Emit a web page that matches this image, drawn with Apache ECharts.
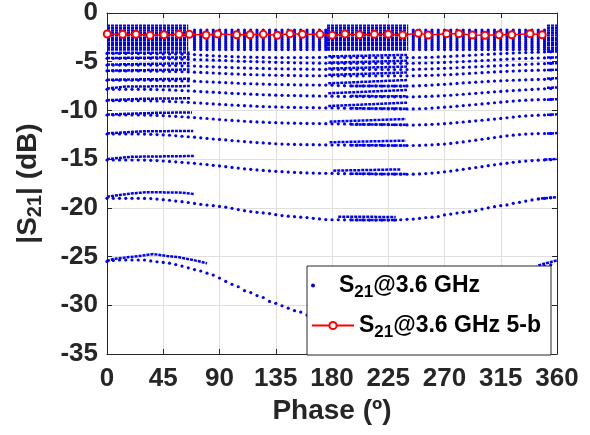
<!DOCTYPE html>
<html><head><meta charset="utf-8">
<script src="https://cdn.jsdelivr.net/npm/echarts@6/dist/echarts.min.js"></script>
<style>html,body{margin:0;padding:0;background:#fff}#c{width:590px;height:435px}</style>
</head><body><div id="c"></div>
<script>
// x-axis tick labels and y-axis tick labels
const xTicks = [0,45,90,135,180,225,270,315,360];
const yTicks = [-35,-30,-25,-20,-15,-10,-5,0];

// phase grid of the sparse dots (degrees)
const phases = [0,5,10,15,20,25,30,35,40,45,50,55,60,65,70,75,80,85,90,95,100,105,110,115,120,125,130,135,140,145,150,155,160,165,170,175,180,185,190,195,200,205,210,215,220,225,230,235,240,245,250,255,260,265,270,275,280,285,290,295,300,305,310,315,320,325,330,335,340,345,350,355];

// sparse |S21| curves (dB), one value per phase above
const curve4_1 = [-4.15,-4.15,-4.15,-4.15,-4.15,-4.16,-4.17,-4.18,-4.19,-4.2,-4.21,-4.22,-4.23,-4.24,
 -4.27,-4.31,-4.35,-4.39,-4.42,-4.45,-4.48,-4.5,-4.52,-4.53,-4.55,-4.56,-4.57,-4.58,-4.58,-4.58,-4.58,-4.58,-4.57,-4.57,-4.56,-4.55,
 -4.55,-4.56,-4.57,-4.58,-4.58,-4.58,-4.59,-4.59,-4.59,-4.59,-4.59,-4.59,-4.58,
 -4.58,-4.57,-4.56,-4.54,-4.51,-4.48,-4.45,-4.41,-4.38,-4.34,-4.31,-4.27,-4.24,-4.2,-4.17,-4.14,-4.11,-4.08,-4.06,-4.04,-4.02,-4.0,-3.98];
const curve4_7 = [-4.65,-4.65,-4.65,-4.65,-4.65,-4.65,
 -4.66,-4.66,-4.67,-4.69,-4.7,-4.72,-4.74,-4.75,-4.78,-4.8,-4.82,-4.84,-4.86,-4.88,-4.91,-4.94,-4.96,-4.98,-5.0,-5.02,-5.04,-5.06,-5.08,-5.09,-5.11,-5.12,-5.13,-5.14,-5.15,-5.16,-5.16,
 -5.17,-5.17,-5.17,-5.17,-5.17,-5.17,-5.17,-5.17,-5.17,-5.17,-5.17,-5.17,
 -5.16,-5.14,-5.13,-5.11,-5.09,-5.07,-5.04,-5.01,-4.98,-4.95,-4.92,-4.88,-4.85,-4.81,-4.78,-4.74,-4.71,-4.68,-4.66,-4.64,-4.62,-4.61,-4.6];
const curve5_3 = [-5.34,-5.34,-5.34,-5.34,-5.34,-5.34,
 -5.34,-5.35,-5.36,-5.37,-5.39,-5.4,-5.42,-5.43,-5.45,-5.47,-5.5,-5.52,-5.55,-5.58,-5.6,-5.62,-5.64,-5.66,-5.68,-5.69,-5.71,-5.72,-5.73,-5.74,-5.75,-5.76,-5.77,-5.77,-5.78,-5.78,-5.79,
 -5.8,-5.8,-5.8,-5.8,-5.8,-5.8,-5.8,-5.8,-5.8,-5.8,-5.8,-5.8,
 -5.79,-5.77,-5.75,-5.73,-5.7,-5.68,-5.65,-5.62,-5.58,-5.55,-5.52,-5.49,-5.46,-5.43,-5.4,-5.37,-5.34,-5.3,-5.27,-5.24,-5.22,-5.2,-5.18];
const curve6_0 = [-5.95,-5.95,-5.95,-5.95,-5.95,-5.95,
 -5.95,-5.96,-5.97,-5.98,-6.0,-6.01,-6.03,-6.05,-6.07,-6.1,-6.13,-6.16,-6.19,-6.22,-6.25,-6.27,-6.3,-6.32,-6.34,-6.36,-6.37,-6.39,-6.4,-6.41,-6.42,-6.43,-6.43,-6.44,-6.44,-6.44,-6.45,
 -6.45,-6.45,-6.45,-6.45,-6.45,-6.45,-6.45,-6.45,-6.45,-6.45,-6.45,-6.45,
 -6.44,-6.43,-6.41,-6.39,-6.37,-6.35,-6.32,-6.28,-6.24,-6.2,-6.16,-6.12,-6.08,-6.05,-6.02,-5.99,-5.96,-5.93,-5.91,-5.89,-5.87,-5.86,-5.85];
const curve6_9 = [-6.9,-6.9,-6.9,-6.9,-6.9,-6.9,
 -6.9,-6.91,-6.92,-6.93,-6.94,-6.95,-6.97,-6.98,-7.0,-7.03,-7.06,-7.09,-7.12,-7.15,-7.18,-7.21,-7.24,-7.26,-7.28,-7.3,-7.32,-7.34,-7.35,-7.36,-7.37,-7.38,-7.38,-7.39,-7.4,-7.4,-7.41,
 -7.45,-7.46,-7.47,-7.48,-7.48,-7.49,-7.49,-7.5,-7.5,-7.5,-7.5,-7.49,
 -7.48,-7.46,-7.43,-7.4,-7.36,-7.32,-7.28,-7.23,-7.18,-7.14,-7.1,-7.06,-7.02,-6.99,-6.96,-6.93,-6.9,-6.88,-6.86,-6.84,-6.82,-6.81,-6.8];
const curve7_8 = [-7.83,-7.83,-7.83,-7.83,-7.83,-7.83,
 -7.83,-7.84,-7.86,-7.88,-7.9,-7.93,-7.96,-7.99,-8.02,-8.06,-8.1,-8.13,-8.17,-8.2,-8.24,-8.27,-8.3,-8.33,-8.36,-8.39,-8.41,-8.43,-8.45,-8.47,-8.48,-8.49,-8.5,-8.51,-8.52,-8.53,-8.54,
 -8.55,-8.56,-8.57,-8.58,-8.58,-8.59,-8.59,-8.6,-8.6,-8.6,-8.6,-8.6,
 -8.6,-8.58,-8.56,-8.54,-8.51,-8.48,-8.44,-8.39,-8.34,-8.29,-8.24,-8.19,-8.14,-8.09,-8.05,-8.0,-7.96,-7.92,-7.88,-7.84,-7.81,-7.78,-7.76];
const curve9_0 = [-9.0,-9.0,-9.0,-9.0,-9.0,-9.0,
 -9.0,-9.01,-9.03,-9.05,-9.08,-9.11,-9.14,-9.17,-9.21,-9.25,-9.29,-9.33,-9.37,-9.41,-9.45,-9.48,-9.51,-9.54,-9.57,-9.6,-9.62,-9.64,-9.66,-9.68,-9.69,-9.7,-9.71,-9.72,-9.73,-9.74,-9.75,
 -9.76,-9.77,-9.78,-9.79,-9.8,-9.81,-9.82,-9.83,-9.84,-9.85,-9.85,-9.85,
 -9.85,-9.83,-9.8,-9.76,-9.72,-9.67,-9.62,-9.56,-9.5,-9.45,-9.39,-9.33,-9.27,-9.21,-9.15,-9.09,-9.04,-8.99,-8.95,-8.92,-8.9,-8.88,-8.87];
const curve10_5 = [-10.47,-10.47,-10.47,-10.47,-10.47,-10.47,
 -10.48,-10.49,-10.51,-10.54,-10.57,-10.61,-10.65,-10.69,-10.73,-10.78,-10.83,-10.88,-10.93,-10.98,-11.03,-11.07,-11.11,-11.15,-11.18,-11.21,-11.24,-11.26,-11.28,-11.3,-11.31,-11.32,-11.33,-11.34,-11.35,-11.36,-11.37,
 -11.38,-11.39,-11.4,-11.41,-11.42,-11.43,-11.44,-11.45,-11.46,-11.47,-11.48,-11.49,
 -11.5,-11.48,-11.46,-11.43,-11.4,-11.36,-11.31,-11.25,-11.19,-11.13,-11.07,-11.01,-10.95,-10.89,-10.82,-10.75,-10.68,-10.61,-10.56,-10.52,-10.49,-10.47,-10.45];
const curve12_4 = [-12.42,-12.42,-12.42,-12.42,-12.42,-12.42,
 -12.43,-12.45,-12.48,-12.51,-12.55,-12.6,-12.65,-12.7,-12.75,-12.81,-12.87,-12.93,-12.98,-13.03,-13.09,-13.14,-13.2,-13.25,-13.3,-13.34,-13.38,-13.42,-13.45,-13.47,-13.49,-13.5,-13.51,-13.52,-13.53,-13.54,-13.55,
 -13.55,-13.56,-13.56,-13.57,-13.57,-13.58,-13.58,-13.59,-13.59,-13.6,-13.6,-13.6,
 -13.6,-13.59,-13.56,-13.53,-13.49,-13.45,-13.39,-13.31,-13.23,-13.14,-13.05,-12.96,-12.87,-12.78,-12.69,-12.61,-12.54,-12.48,-12.43,-12.4,-12.38,-12.37,-12.36];
const curve15_1 = [-15.09,-15.09,-15.09,-15.09,-15.09,-15.09,
 -15.1,-15.12,-15.15,-15.19,-15.23,-15.28,-15.33,-15.38,-15.43,-15.5,-15.56,-15.63,-15.7,-15.77,-15.85,-15.92,-15.99,-16.05,-16.11,-16.16,-16.21,-16.25,-16.29,-16.33,-16.36,-16.39,-16.41,-16.43,-16.45,-16.46,-16.47,
 -16.48,-16.49,-16.5,-16.5,-16.51,-16.52,-16.52,-16.53,-16.53,-16.54,-16.54,-16.55,
 -16.54,-16.52,-16.48,-16.43,-16.38,-16.3,-16.22,-16.13,-16.04,-15.95,-15.86,-15.77,-15.67,-15.58,-15.49,-15.41,-15.33,-15.26,-15.2,-15.15,-15.11,-15.08,-15.06];
const curve19_0 = [-19.02,-19.02,-19.02,-19.02,-19.02,-19.02,
 -19.03,-19.05,-19.1,-19.16,-19.22,-19.3,-19.37,-19.45,-19.55,-19.64,-19.71,-19.78,-19.85,-19.93,-20.05,-20.18,-20.29,-20.38,-20.46,-20.52,-20.59,-20.7,-20.79,-20.85,-20.91,-20.96,-21.0,-21.07,-21.14,-21.2,-21.22,
 -21.22,-21.23,-21.23,-21.24,-21.24,-21.25,-21.25,-21.25,-21.25,-21.25,-21.22,-21.18,
 -21.15,-21.08,-21.0,-20.96,-20.89,-20.73,-20.64,-20.54,-20.46,-20.39,-20.29,-20.12,-20.0,-19.88,-19.78,-19.7,-19.53,-19.43,-19.3,-19.19,-19.09,-19.02,-18.97];
const curve25_5 = [-25.5,-25.4,-25.35,-25.35,-25.35,-25.35,
 -25.35,-25.45,-25.53,-25.6,-25.68,-25.82,-25.98,-26.15,-26.33,-26.48,-26.7,-26.9,-27.2,-27.55,-27.85,-28.1,-28.5,-28.7,-29.0,-29.2,-29.6,-29.8,-30.05,-30.3,-30.55,-30.7,-31.0,-31.2,-31.4,-31.55,-31.7,
 -31.8,-31.9,-32.0,-32.05,-32.1,-32.1,-32.1,-32.05,-32.0,-31.95,-31.85,-31.75,
 -31.6,-31.45,-31.3,-31.1,-30.9,-30.65,-30.4,-30.15,-29.85,-29.55,-29.25,-28.95,-28.6,-28.25,-27.9,-27.55,-27.2,-26.9,-26.6,-26.35,-26.15,-26.0,-25.85];

// top cluster: vertical columns of closely spaced states
const topColPhases = [70,75,80,85,90,95,100,105,110,115,120,125,130,135,140,145,150,155,160,165,170,175,245,250,255,260,265,270,275,280,285,290,295,300,305,310,315,320,325,330,335,340,345,350];
const topRows = [-1.75,-1.95,-2.15,-2.35,-2.55,-2.75,-2.95,-3.15,-3.35,-3.55,-3.75];
// dense blocks of the top cluster
const blockRows = [-1.3,-1.55,-1.8,-2.05,-2.3,-2.55,-2.8,-3.05,-3.3,-3.55,-3.75];
const blockSpans = [[0,65],[176,241],[352,360]];

// dense (closely packed) runs of each curve, [phase, dB] anchors
const dense4_1 = [[[0,-4.1],[66,-4.05]], [[177,-4.45],[240,-4.3]], [[352,-3.97],[360,-3.95]]];
const dense4_7 = [[[0,-4.62],[66,-4.55]], [[177,-5.1],[240,-4.9]], [[352,-4.58],[360,-4.55]]];
const dense5_3 = [[[0,-5.3],[66,-5.15]], [[177,-5.7],[240,-5.5]], [[352,-5.17],[360,-5.15]]];
const dense6_0 = [[[0,-5.92],[66,-5.8]], [[177,-6.35],[240,-6.1]], [[352,-5.85],[360,-5.82]]];
const dense6_9 = [[[0,-6.85],[67,-6.75]], [[177,-7.22],[240,-6.88]], [[195,-7.49],[240,-7.49]], [[352,-6.72],[360,-6.7]]];
const dense7_8 = [[[0,-7.75],[15,-7.55],[67,-7.5]], [[177,-8.24],[240,-7.9]], [[195,-8.52],[240,-8.55]], [[352,-7.68],[360,-7.65]]];
const dense9_0 = [[[0,-8.95],[30,-8.8],[67,-8.75]], [[177,-9.55],[240,-9.2]], [[195,-9.78],[240,-9.82]], [[352,-8.9],[360,-8.85]]];
const dense10_5 = [[[0,-10.42],[38,-10.25],[68,-10.2]], [[178,-11.15],[239,-10.88]], [[195,-11.43],[240,-11.47]], [[352,-10.45],[360,-10.4]]];
const dense12_4 = [[[0,-12.35],[28,-12.15],[69,-12.1]], [[178,-13.27],[239,-13.1]], [[195,-13.57],[240,-13.6]], [[352,-12.38],[360,-12.32]]];
const dense15_1 = [[[0,-15.0],[20,-14.75],[70,-14.68]], [[181,-16.18],[235,-16.05]], [[195,-16.5],[240,-16.53]], [[350,-15.04],[360,-14.98]]];
const dense19_0 = [[[0,-18.85],[10,-18.68],[21,-18.5],[32,-18.4],[58,-18.42],[70,-18.58]], [[185,-20.9],[231,-20.94]], [[195,-21.24],[232,-21.25]], [[344,-19.08],[360,-18.9]]];
const dense25_5 = [[[0,-25.45],[5,-25.25],[16,-25.08],[26,-24.94],[37,-24.74],[48,-24.94],[58,-25.08],[69,-25.35],[80,-25.69]], [[345,-25.9],[360,-25.4]]];

// 5-bit states (red)
const redPhase = [0.2,12.5,23.2,34.4,45.6,57.6,65.9,79.2,88.5,103.7,114.4,125,136.3,146.4,156.3,170.4,180.2,190.4,201.9,213.9,225,236.5,249,257,271.7,281.6,292.3,302.4,313.6,323.8,338.4,348.2];
const redDb = [-2.16,-2.19,-2.19,-2.29,-2.23,-2.19,-2.19,-2.26,-2.16,-2.23,-2.23,-2.19,-2.29,-2.12,-2.19,-2.19,-2.29,-2.16,-2.23,-2.19,-2.19,-2.26,-2.09,-2.26,-2.12,-2.12,-2.26,-2.29,-2.23,-2.23,-2.12,-2.23];

const name1 = 'S21@3.6 GHz';
const name2 = 'S21@3.6 GHz 5-b';

// ---- build tables for the library ----
const curves = [curve4_1,curve4_7,curve5_3,curve6_0,curve6_9,curve7_8,curve9_0,curve10_5,curve12_4,curve15_1,curve19_0,curve25_5];
const denseAll = [dense4_1,dense4_7,dense5_3,dense6_0,dense6_9,dense7_8,dense9_0,dense10_5,dense12_4,dense15_1,dense19_0,dense25_5];
const scatterData = [];
curves.forEach(c => c.forEach((v, i) => { if (i < phases.length) scatterData.push([phases[i], v]); }));
topColPhases.forEach(p => topRows.forEach(r => scatterData.push([p, r])));
const blockData = [];
blockRows.forEach(r => blockSpans.forEach(s => blockData.push({coords: [[s[0], r], [s[1], r]]})));
const segData = [];
denseAll.forEach(d => d.forEach(seg => segData.push({coords: seg})));
const redData = redPhase.map((p, i) => [p, redDb[i]]);

const FONT = 'Liberation Sans, Arial, sans-serif';
const AX = '#262626';
const chart = echarts.init(document.getElementById('c'), null, {renderer: 'canvas'});
const richLegend = {
  s: {fontSize: 23, fontWeight: 'bold', fontFamily: FONT, color: '#000', lineHeight: 30},
  sub: {fontSize: 17, fontWeight: 'bold', fontFamily: FONT, color: '#000', lineHeight: 10, verticalAlign: 'bottom'}
};
const legendFmt = n => n === name1 ? '{s|S}{sub|21}{s|@3.6 GHz}' : '{s|S}{sub|21}{s|@3.6 GHz 5-b}';
chart.setOption({
  animation: false,
  backgroundColor: '#fff',
  grid: {left: 107, right: 33, top: 13, bottom: 81, outerBoundsMode: 'none', containLabel: false},
  xAxis: [{
    type: 'value', min: 0, max: 360, interval: 45,
    name: 'Phase (º)', nameLocation: 'middle', nameGap: 37,
    nameTextStyle: {fontSize: 28, fontWeight: 'bold', fontFamily: FONT, color: AX},
    axisLine: {show: true, onZero: false, lineStyle: {color: AX, width: 1}},
    axisTick: {show: true, inside: true, length: 5, lineStyle: {color: AX}},
    axisLabel: {fontSize: 26, fontWeight: 'bold', fontFamily: FONT, color: AX, margin: 12,
      formatter: v => xTicks.indexOf(v) >= 0 ? String(v) : ''},
    splitLine: {show: true, lineStyle: {color: '#dfdfdf', width: 1}}
  }, {
    type: 'value', min: 0, max: 360, interval: 45, position: 'top',
    axisLine: {show: true, onZero: false, lineStyle: {color: AX, width: 1}},
    axisTick: {show: true, inside: true, length: 5, lineStyle: {color: AX}},
    axisLabel: {show: false}, splitLine: {show: false}
  }],
  yAxis: [{
    type: 'value', min: -35, max: 0, interval: 5,
    name: '{s||S}{sub|21}{s|| (dB)}', nameLocation: 'middle', nameGap: 62, nameRotate: 90,
    nameTextStyle: {fontSize: 28, fontWeight: 'bold', fontFamily: FONT, color: AX,
      rich: {
        s: {fontSize: 28, fontWeight: 'bold', fontFamily: FONT, color: AX, lineHeight: 34},
        sub: {fontSize: 20, fontWeight: 'bold', fontFamily: FONT, color: AX, lineHeight: 12, verticalAlign: 'bottom'}
      }},
    axisLine: {show: true, onZero: false, lineStyle: {color: AX, width: 1}},
    axisTick: {show: true, inside: true, length: 5, lineStyle: {color: AX}},
    axisLabel: {fontSize: 26, fontWeight: 'bold', fontFamily: FONT, color: AX, margin: 9,
      formatter: v => yTicks.indexOf(v) >= 0 ? String(v) : ''},
    splitLine: {show: true, lineStyle: {color: '#dfdfdf', width: 1}}
  }, {
    type: 'value', min: -35, max: 0, interval: 5, position: 'right',
    axisLine: {show: true, onZero: false, lineStyle: {color: AX, width: 1}},
    axisTick: {show: true, inside: true, length: 5, lineStyle: {color: AX}},
    axisLabel: {show: false}, splitLine: {show: false}
  }],
  legend: [{
    data: [{name: name1, icon: 'circle'}],
    orient: 'vertical', left: 311, top: 274, padding: 0,
    itemWidth: 42, itemHeight: 4, itemGap: 0, selectedMode: false, z: 30,
    formatter: legendFmt, textStyle: {rich: richLegend}
  }, {
    data: [name2],
    orient: 'vertical', left: 311, top: 314, padding: 0,
    itemWidth: 42, itemHeight: 9, itemGap: 0, selectedMode: false, z: 30,
    formatter: legendFmt, textStyle: {rich: richLegend}
  }],
  graphic: [{
    type: 'rect', z: 20, silent: true,
    shape: {x: 307, y: 266, width: 244, height: 89},
    style: {fill: '#fff', stroke: AX, lineWidth: 1}
  }],
  series: [{
    name: name1, type: 'scatter', data: scatterData,
    symbol: 'circle', symbolSize: 3.2, silent: true,
    itemStyle: {color: '#0000ff', opacity: 1}, z: 2
  }, {
    name: name1, type: 'lines', coordinateSystem: 'cartesian2d', polyline: true,
    data: blockData, silent: true,
    lineStyle: {color: '#0000ff', width: 2.4, opacity: 1, type: [3, 1]}, z: 2
  }, {
    name: name1, type: 'lines', coordinateSystem: 'cartesian2d', polyline: true,
    data: segData, silent: true,
    lineStyle: {color: '#0000ff', width: 2.5, opacity: 1, type: [3, 1]}, z: 2
  }, {
    name: name2, type: 'line', data: redData,
    symbol: 'emptyCircle', symbolSize: 7, silent: true,
    lineStyle: {color: '#ff0000', width: 1.5},
    itemStyle: {color: '#ff0000', borderWidth: 1.3}, z: 5
  }]
});
</script></body></html>
